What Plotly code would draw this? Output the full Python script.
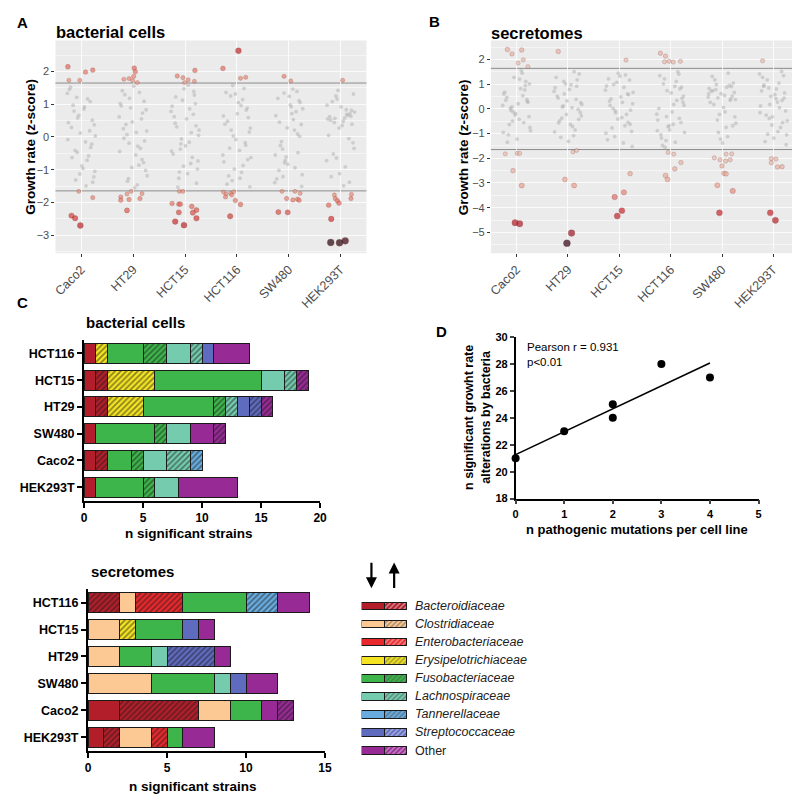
import numpy as np
import plotly.graph_objects as go

W, H = 800, 795
FONT = "Liberation Sans, Arial, sans-serif"

CELL_LINES = ["Caco2", "HT29", "HCT15", "HCT116", "SW480", "HEK293T"]
Z_CUT = 1.645

# jitter offsets for the non significant (grey) points, shared by every column
JITTER = [-0.21, 0.05, 0.18, -0.09, 0.26, -0.25, 0.11, -0.02, 0.22, -0.16, 0.08, -0.27,
          0.14, -0.05, 0.24, -0.19, 0.01, 0.17, -0.12, 0.27, -0.23, 0.09, -0.07, 0.20,
          -0.14, 0.03, 0.25, -0.18, 0.12, -0.03, 0.16, -0.26, 0.06, -0.11, 0.21, -0.08]

# panel A - bacterial cells, grey points (one list per cell line)
A_GREY = [
    [1.52, 0.85, -0.32, 1.21, -1.05, 0.44, -0.71, 0.12, -1.38, 0.97, -0.15, 1.33, -0.58, 0.66, -1.22, 0.29, -0.88, 1.08,
     -0.41, 0.03, 1.45, -1.49, 0.58, -0.22, 0.79, -0.96, 0.37, -0.63, 1.16, -1.13, 0.19, -0.08, 0.92, -1.31, 0.51, -0.47],
    [1.41, -0.55, 0.73, -1.27, 0.18, 1.02, -0.86, 0.46, -0.12, 1.29, -1.46, 0.61, -0.35, 0.89, -1.02, 0.25, 1.55, -0.69,
     0.07, -1.18, 0.95, -0.28, 1.18, -0.78, 0.38, -1.55, 0.83, -0.04, 1.36, -0.93, 0.55, -0.44, 0.14, -1.35, 1.09, -0.19],
    [0.62, -1.12, 1.28, -0.37, 0.05, 0.94, -0.81, 1.47, -1.41, 0.31, -0.16, 0.78, -0.62, 1.12, -0.98, 0.42, -0.27, 1.39,
     -1.26, 0.21, -0.52, 0.86, -0.06, 1.02, -1.53, 0.55, -0.73, 1.22, 0.13, -0.89, 0.69, -0.43, 1.58, -1.07, 0.34, -0.21],
    [1.36, -0.41, 0.82, -1.33, 0.27, -0.76, 1.14, -0.08, 0.59, -1.19, 0.96, -0.55, 1.48, -0.98, 0.15, -1.44, 0.71, -0.25,
     1.25, -0.63, 0.39, -1.08, 0.03, 0.88, -0.34, 1.05, -1.52, 0.48, -0.87, 1.31, -0.17, 0.64, -1.26, 0.21, -0.69, 1.57],
    [1.18, 0.92, -0.48, 1.34, -1.15, 0.65, 0.21, -0.83, 1.05, -0.26, 1.46, -1.39, 0.77, -0.61, 0.38, -1.02, 1.24, 0.09,
     -0.37, 0.86, -1.28, 0.53, -0.72, 1.11, -0.14, 0.98, -1.51, 0.45, -0.94, 0.28, 1.39, -0.55, 0.71, -1.21, 0.02, -0.79],
    [0.62, 0.48, 0.71, 1.25, -0.35, 0.55, 0.83, -1.12, 0.39, 1.08, 0.58, -0.72, 0.66, 1.42, -0.18, 0.51, 0.92, -1.38,
     0.44, 0.76, 0.05, -0.91, 1.16, 0.63, -0.52, 0.35, 1.31, -1.21, 0.69, 0.27, -0.05, 0.97, -1.49, 0.57, 0.81, -0.64],
]
# panel A significant points: z-scores and jitter offsets
A_SIG_Z = [
    [2.14, 1.73, 1.73, 1.98, 2.04, -1.66, -1.85, -2.40, -2.48, -2.70],
    [1.76, 1.78, 1.72, 2.10, 1.99, 1.85, 1.66, -1.66, -1.74, -1.83, -1.93, -1.91, -1.73, -1.88, -2.24],
    [1.86, 1.81, 1.66, 1.74, 2.03, 1.70, -1.66, -1.66, -2.03, -2.05, -2.05, -2.30, -2.58, -2.69, -2.12, -2.23, -2.31, -2.48],
    [2.09, 2.63, 1.79, 1.82, -1.68, -1.74, -1.83, -1.72, -1.67, -1.77, -1.94, -2.06, -2.42],
    [1.85, 1.71, -1.66, -1.66, -1.88, -1.92, -1.90, -1.93, -1.72, -2.29, -2.30],
    [1.73, -1.77, -1.88, -1.95, -2.02, -2.08, -1.75, -1.88, -2.50, -3.22, -3.23, -3.17],
]
A_SIG_DX = [
    [-0.26, -0.24, -0.03, 0.08, 0.22, -0.05, 0.22, -0.19, -0.12, -0.02],
    [-0.18, -0.08, -0.01, 0.02, 0.04, 0.01, 0.08, -0.04, -0.12, -0.24, -0.24, -0.08, 0.17, 0.13, -0.12],
    [-0.15, -0.04, -0.01, 0.06, 0.19, 0.18, -0.11, -0.04, -0.25, -0.12, -0.09, -0.12, -0.19, -0.02, 0.13, 0.22, 0.15, 0.22],
    [-0.27, 0.03, 0.07, 0.17, -0.26, -0.21, -0.22, -0.12, -0.06, -0.10, -0.03, 0.07, -0.13],
    [-0.09, 0.04, -0.13, 0.12, -0.04, 0.08, 0.17, 0.20, 0.22, -0.20, -0.02],
    [0.04, -0.12, -0.10, -0.06, -0.03, -0.23, 0.21, 0.20, -0.18, -0.19, -0.02, 0.09],
]

# panel B - secretomes
B_GREY = [
    [0.35, -0.42, 1.12, 0.08, -0.75, 0.61, 1.45, -0.18, 0.27, -1.05, 0.82, 0.14, -0.55, 1.28, -0.31, 0.47, -1.22, 0.95,
     0.03, -0.88, 0.68, 1.55, -0.12, 0.39, -0.63, 0.21, 1.02, -1.35, 0.54, -0.24, 0.77, -0.95, 1.21, -0.06, 0.31, -0.49],
    [0.52, -0.63, 1.18, 0.12, -0.28, 0.86, -1.08, 0.33, 1.42, -0.47, 0.05, 0.71, -0.85, 1.02, -0.14, 0.44, -1.31, 0.92,
     -0.37, 0.18, 1.28, -0.71, 0.61, -0.02, -1.15, 0.79, 0.26, -0.56, 1.51, -0.22, 0.39, -0.93, 0.98, 0.08, -0.42, 1.12],
    [1.22, -0.35, 0.58, -1.12, 0.21, 0.93, -0.68, 1.45, -0.05, 0.41, -1.38, 0.76, -0.22, 1.08, -0.91, 0.32, 1.33, -0.54,
     0.02, 0.67, -1.25, 0.88, -0.15, 1.17, -0.77, 0.49, -1.52, 0.14, 1.38, -0.41, 0.61, -0.98, 0.27, 0.99, -0.62, -0.08],
    [1.35, -0.62, 0.81, -1.28, 0.15, -0.45, 1.12, -0.85, 0.43, -1.48, 0.92, -0.21, 1.51, -0.72, 0.28, -1.05, 0.65, -0.38,
     1.22, -0.95, 0.02, -1.35, 0.74, -0.55, 1.02, -0.12, 0.52, -1.18, 0.35, -0.68, 1.41, -0.88, 0.18, -1.55, 0.88, -0.31],
    [0.72, 0.55, 0.91, -0.45, 0.38, 0.83, -1.12, 0.62, 1.05, 0.18, -0.75, 0.48, 0.95, -0.22, 0.67, 1.32, -1.38, 0.41,
     0.78, -0.58, 0.27, 0.88, -0.95, 0.52, 1.18, 0.06, -0.32, 0.74, 1.45, -1.22, 0.35, 0.61, -0.12, 0.99, -0.68, 0.45],
    [1.28, 0.42, -0.55, 0.85, -1.05, 0.12, 1.05, -0.32, 0.65, -1.32, 0.28, 1.42, -0.75, 0.51, -0.08, 0.92, -1.18, 0.35,
     1.18, -0.48, 0.73, -0.92, 0.18, 1.35, -0.25, 0.58, -1.45, 0.96, 0.05, -0.65, 1.52, -0.15, 0.81, -1.02, 0.44, -0.38],
]
B_SIG_Z = [
    [2.41, 2.23, 2.39, 1.86, 1.99, 1.72, -1.82, -1.80, -1.80, -2.50, -3.10, -4.61, -4.65],
    [2.33, -1.74, -1.68, -2.86, -3.10, -5.03, -5.44],
    [1.98, -2.62, -3.57, -3.38, -4.34, -4.12],
    [2.26, 2.14, 1.91, 1.93, 1.90, 1.93, -1.76, -1.83, -2.17, -2.43, -2.70, -2.86],
    [-1.98, -2.06, -2.11, -2.06, -1.83, -1.82, -2.31, -2.61, -2.63, -3.09, -3.32, -4.21],
    [1.95, -2.01, -2.03, -2.18, -2.35, -2.34, -4.21, -4.51],
]
B_SIG_DX = [
    [-0.18, -0.09, 0.10, 0.03, 0.13, 0.22, -0.22, 0.01, 0.06, -0.07, 0.10, -0.03, 0.06],
    [-0.19, 0.10, 0.17, -0.06, 0.12, 0.07, -0.02],
    [0.13, 0.21, -0.09, 0.09, -0.04, 0.05],
    [-0.20, -0.10, -0.12, -0.03, 0.05, 0.19, -0.05, 0.06, 0.20, 0.08, -0.10, -0.06],
    [-0.15, -0.04, 0.07, 0.16, 0.08, 0.19, 0.00, 0.04, 0.08, -0.09, 0.21, -0.05],
    [-0.21, -0.04, 0.05, -0.04, 0.08, 0.17, -0.06, 0.04],
]

# panel C - number of significant strains per family (solid = decreased, hatched = increased)
FAMILIES = ["Bacteroidiaceae", "Clostridiaceae", "Enterobacteriaceae", "Erysipelotrichiaceae",
            "Fusobacteriaceae", "Lachnospiraceae", "Tannerellaceae", "Streptococcaceae", "Other"]
FAMILY_COLORS = ["#b21e2a", "#fcc893", "#e8282c", "#f3e323", "#3db54b",
                 "#74cbae", "#68acdf", "#5f6bbf", "#972a94"]
BAR_LINES = ["HCT116", "HCT15", "HT29", "SW480", "Caco2", "HEK293T"]

CELLS_DOWN = [[1, 1, 1, 1, 1, 1], [0, 0, 0, 0, 0, 0], [0, 0, 0, 0, 0, 0], [0, 0, 0, 0, 0, 0],
              [3, 9, 6, 5, 2, 4], [2, 2, 0, 2, 2, 2], [0, 0, 0, 0, 0, 0], [1, 0, 1, 0, 0, 0], [3, 0, 0, 2, 0, 5]]
CELLS_UP = [[0, 1, 1, 0, 1, 0], [0, 0, 0, 0, 0, 0], [0, 0, 0, 0, 0, 0], [1, 4, 3, 0, 0, 0],
            [2, 0, 1, 1, 1, 1], [1, 1, 1, 0, 2, 0], [0, 0, 0, 0, 1, 0], [0, 0, 1, 0, 0, 0], [0, 1, 1, 1, 0, 0]]
SECR_DOWN = [[0, 0, 0, 0, 2, 1], [1, 2, 2, 4, 2, 2], [0, 0, 0, 0, 0, 0], [0, 0, 0, 0, 0, 0],
             [4, 3, 2, 4, 2, 1], [0, 0, 1, 1, 0, 0], [0, 0, 0, 0, 0, 0], [0, 1, 0, 1, 0, 0], [2, 1, 1, 2, 1, 2]]
SECR_UP = [[2, 0, 0, 0, 5, 1], [0, 0, 0, 0, 0, 0], [3, 0, 0, 0, 0, 1], [0, 1, 0, 0, 0, 0],
           [0, 0, 0, 0, 0, 0], [0, 0, 0, 0, 0, 0], [2, 0, 0, 0, 0, 0], [0, 0, 3, 0, 0, 0], [0, 0, 0, 0, 1, 0]]

# panel D
MUTATIONS = [0, 1, 2, 2, 3, 4]
ALTERATIONS = [21, 23, 25, 24, 28, 27]


def fx(p):
    return p / W


def fy(p):
    return 1 - p / H


SCALE_A = [[0, "#e9967f"], [0.3, "#e06a5a"], [0.55, "#cc3030"], [0.75, "#a61b24"], [1, "#1c0008"]]
SCALE_B = [[0, "#e6c2b3"], [0.4, "#eba08c"], [0.65, "#c9282f"], [0.9, "#9c1424"], [1, "#2a0010"]]

fig = go.Figure()


def jitter_panel(grey, sig_z, sig_dx, xa, ya, scale, cmax):
    gx, gy = [], []
    for i, ys in enumerate(grey):
        gx += [i + d for d in JITTER[:len(ys)]]
        gy += ys
    fig.add_trace(go.Scatter(x=gx, y=gy, mode="markers", xaxis=xa, yaxis=ya, hoverinfo="skip",
                             marker=dict(size=3.8, color="rgba(180,180,180,0.55)"), showlegend=False))
    sx, sz = [], []
    for i, (zl, dl) in enumerate(zip(sig_z, sig_dx)):
        sx += [i + d for d in dl]
        sz += zl
    mag = np.abs(sz)
    fig.add_trace(go.Scatter(x=sx, y=sz, mode="markers", xaxis=xa, yaxis=ya, showlegend=False,
                             marker=dict(color=mag, colorscale=scale, cmin=Z_CUT, cmax=cmax,
                                         size=4 + 3 * (mag - Z_CUT) / (cmax - Z_CUT),
                                         line=dict(color="rgba(110,20,20,0.45)", width=0.6))))


jitter_panel(A_GREY, A_SIG_Z, A_SIG_DX, "x", "y", SCALE_A, 3.25)
jitter_panel(B_GREY, B_SIG_Z, B_SIG_DX, "x2", "y2", SCALE_B, 5.45)


def stacked(down, up, xa, ya):
    for col, d, u in zip(FAMILY_COLORS, down, up):
        for vals, shape in ((d, ""), (u, "/")):
            fig.add_trace(go.Bar(x=[v if v else None for v in vals], y=BAR_LINES, orientation="h",
                                 width=0.74, xaxis=xa, yaxis=ya, showlegend=False,
                                 marker=dict(color=col, line=dict(color="#1a1a1a", width=1),
                                             pattern=dict(shape=shape, fgcolor="#1a1a1a", size=4, solidity=0.4))))


stacked(CELLS_DOWN, CELLS_UP, "x3", "y3")
stacked(SECR_DOWN, SECR_UP, "x4", "y4")

# legend swatches
for start, shape in ((0, ""), (1, "/")):
    fig.add_trace(go.Bar(x=[1] * len(FAMILIES), y=FAMILIES, base=start, orientation="h", width=0.42,
                         xaxis="x6", yaxis="y6", showlegend=False,
                         marker=dict(color=FAMILY_COLORS, line=dict(color="#1a1a1a", width=1),
                                     pattern=dict(shape=shape, fgcolor="#1a1a1a", size=3.5, solidity=0.4))))

# panel D
slope, intercept = np.polyfit(MUTATIONS, ALTERATIONS, 1)
fit_x = np.array([min(MUTATIONS), max(MUTATIONS)])
fig.add_trace(go.Scatter(x=fit_x, y=slope * fit_x + intercept, mode="lines", xaxis="x5", yaxis="y5",
                         line=dict(color="black", width=1.6), showlegend=False, cliponaxis=False))
fig.add_trace(go.Scatter(x=MUTATIONS, y=ALTERATIONS, mode="markers", xaxis="x5", yaxis="y5",
                         marker=dict(color="black", size=8), showlegend=False, cliponaxis=False))

gg_x = dict(range=[-0.5, 5.5], tickmode="array", tickvals=list(range(6)), ticktext=CELL_LINES,
            tickangle=-45, ticks="outside", ticklen=3, tickcolor="#333", showgrid=True,
            gridcolor="rgba(255,255,255,0.8)", gridwidth=1, zeroline=False,
            tickfont=dict(size=12.5, color="#4d4d4d", family=FONT))
gg_y = dict(dtick=1, tick0=0, ticks="outside", ticklen=3, tickcolor="#333", showgrid=True,
            gridcolor="rgba(255,255,255,0.8)", gridwidth=1, zeroline=False,
            minor=dict(dtick=0.5, tick0=0.5, showgrid=True, gridcolor="rgba(255,255,255,0.5)", gridwidth=0.5),
            tickfont=dict(size=11, color="#4d4d4d", family=FONT))
bold_tick = dict(size=12, color="black", family=FONT, weight="bold")
bar_x = dict(showline=True, linecolor="black", linewidth=2, ticks="outside", ticklen=5, tickwidth=2,
             tickcolor="black", showgrid=False, zeroline=False, tickfont=bold_tick)
bar_y = dict(showline=True, linecolor="black", linewidth=2, ticks="outside", ticklen=5, tickwidth=2,
             tickcolor="black", showgrid=False, zeroline=False, tickfont=dict(bold_tick, size=12.5),
             categoryorder="array", categoryarray=BAR_LINES[::-1], range=[-0.5, 5.5])

fig.update_layout(
    width=W, height=H, margin=dict(l=0, r=0, t=0, b=0),
    paper_bgcolor="white", plot_bgcolor="white", barmode="stack",
    font=dict(family=FONT, color="black"),
    xaxis=dict(gg_x, domain=[fx(45), fx(360)], anchor="y"),
    yaxis=dict(gg_y, domain=[fy(243), fy(27)], range=[-3.55, 2.94], anchor="x"),
    xaxis2=dict(gg_x, domain=[fx(486), fx(798)], anchor="y2"),
    yaxis2=dict(gg_y, domain=[fy(243), fy(27)], range=[-5.85, 2.77], anchor="x2"),
    xaxis3=dict(bar_x, domain=[fx(74), fx(313)], range=[0, 20], tickvals=[0, 5, 10, 15, 20], anchor="y3"),
    yaxis3=dict(bar_y, domain=[fy(494), fy(331)], anchor="x3"),
    xaxis4=dict(bar_x, domain=[fx(78), fx(318)], range=[0, 15], tickvals=[0, 5, 10, 15], anchor="y4"),
    yaxis4=dict(bar_y, domain=[fy(748), fy(584)], anchor="x4"),
    xaxis5=dict(domain=[fx(511), fx(757)], range=[0, 5], dtick=1, showline=True, linecolor="black",
                linewidth=1.5, ticks="outside", ticklen=4, tickwidth=1.5, showgrid=False, zeroline=False,
                tickfont=dict(bold_tick, size=11), anchor="y5"),
    yaxis5=dict(domain=[fy(492), fy(328)], range=[18, 30], dtick=2, showline=True, linecolor="black",
                linewidth=1.5, ticks="outside", ticklen=4, tickwidth=1.5, showgrid=False, zeroline=False,
                tickfont=dict(bold_tick, size=11), anchor="x5"),
    xaxis6=dict(domain=[fx(355), fx(401)], range=[0, 2.02], visible=False, anchor="y6"),
    yaxis6=dict(domain=[fy(757), fy(592)], categoryorder="array", categoryarray=FAMILIES,
                range=[8.5, -0.5], visible=False, anchor="x6"),
)

shapes = []
for xa, ya in (("x", "y"), ("x2", "y2")):
    shapes.append(dict(type="rect", xref=xa + " domain", yref=ya + " domain", x0=0, x1=1, y0=0, y1=1,
                       fillcolor="#ebebeb", line_width=0, layer="below"))
for xa, ya in (("x", "y"), ("x2", "y2")):
    for z in (Z_CUT, -Z_CUT):
        shapes.append(dict(type="line", xref=xa + " domain", yref=ya, x0=0, x1=1, y0=z, y1=z,
                           line=dict(color="#8c8c8c", width=1), layer="below"))
fig.update_layout(shapes=shapes)


def note(text, x, y, size=13, bold=True, **kw):
    fig.add_annotation(text=text, x=x, y=y, xref=kw.pop("xref", "paper"), yref=kw.pop("yref", "paper"),
                       showarrow=False, font=dict(family=FONT, size=size, color=kw.pop("color", "black"),
                                                  weight="bold" if bold else "normal"),
                       xanchor=kw.pop("xanchor", "left"), yanchor=kw.pop("yanchor", "middle"), **kw)


note("A", fx(4), fy(9), 15)
note("B", fx(421), fy(8), 15)
note("C", fx(4), fy(293), 15)
note("D", fx(428), fy(322), 15)
note("bacterial cells", fx(44), fy(18), 16.5)
note("secretomes", fx(484), fy(19), 16.5)
note("bacterial cells", fx(74), fy(313), 15)
note("secretomes", fx(79), fy(566), 15)
note("Growth rate (z-score)", fx(20), fy(135), 13.5, textangle=-90, xanchor="center")
note("Growth rate (z-score)", fx(459), fy(135), 13.5, textangle=-90, xanchor="center")
note("n significant strains", fx(180), fy(527), 13.5, xanchor="center")
note("n significant strains", fx(184), fy(784), 13.5, xanchor="center")
note("n pathogenic mutations per cell line", fx(634), fy(523), 13, xanchor="center")
note("n significant growht rate<br>alterations by bacteria", fx(472), fy(410), 12.5,
     textangle=-90, xanchor="center")
note("Pearson r = 0.931<br>p<0.01", fx(521), fy(346), 11.5, bold=False, align="left")

for fam in FAMILIES:
    label = fam if fam == "Other" else "<i>" + fam + "</i>"
    note(label, fx(407), fam, 12.5, bold=False, yref="y6", color="#222")

# direction arrows above the legend
fig.add_annotation(x=fx(365), y=fy(583), xref="paper", yref="paper", ax=0, ay=-27, text="",
                   showarrow=True, arrowhead=2, arrowsize=1, arrowwidth=2.2, arrowcolor="black")
fig.add_annotation(x=fx(388), y=fy(557), xref="paper", yref="paper", ax=0, ay=27, text="",
                   showarrow=True, arrowhead=2, arrowsize=1, arrowwidth=2.2, arrowcolor="black")

fig.write_html("out.html")
